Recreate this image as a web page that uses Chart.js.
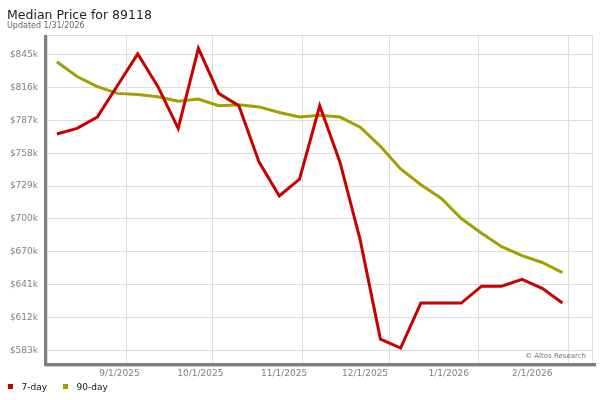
<!DOCTYPE html>
<html>
<head>
<meta charset="utf-8">
<title>Median Price for 89118</title>
<script src="https://cdn.jsdelivr.net/npm/chart.js@4"></script>
<style>
  html, body { margin: 0; padding: 0; background: #fff; }
  #wrap { position: relative; width: 600px; height: 400px; }
</style>
</head>
<body>
<div id="wrap"><canvas id="priceChart" width="600" height="400"></canvas></div>
<script>
// data (prices in $k), weekly points
const weekDates = ['2025-08-08','2025-08-15','2025-08-22','2025-08-29','2025-09-05','2025-09-12','2025-09-19','2025-09-26',
  '2025-10-03','2025-10-10','2025-10-17','2025-10-24','2025-10-31','2025-11-07','2025-11-14','2025-11-21','2025-11-28',
  '2025-12-05','2025-12-12','2025-12-19','2025-12-26','2026-01-02','2026-01-09','2026-01-16','2026-01-23','2026-01-30'];
const price7 = [775, 780, 790, 818, 846, 817, 780, 851, 811, 800, 750, 720, 735, 800, 750, 681, 593, 585,
  625, 625, 625, 640, 640, 646, 638, 625];
const price90 = [839, 826, 817, 811, 810, 808, 804, 806, 800, 801, 799, 794, 790, 791.5, 790, 781, 764, 744,
  730, 718, 700, 687, 675, 667, 661, 652];
const monthDates = ['2025-09-01','2025-10-01','2025-11-01','2025-12-01','2026-01-01','2026-02-01'];
const monthLabels = ['9/1/2025','10/1/2025','11/1/2025','12/1/2025','1/1/2026','2/1/2026'];
const yTicks = [583.1, 612.2, 641.3, 670.4, 699.6, 728.7, 757.8, 786.9, 816.0, 845.1];

const RED = '#c80000', OLIVE = '#a29f00';
const DAY = 86400000, day0 = Date.UTC(2025, 8, 1);
const toDay = s => (Date.parse(s + 'T00:00:00Z') - day0) / DAY;

const pts = arr => arr.map((v, i) => ({ x: toDay(weekDates[i]), y: v }));

// frame, title, legend, credit drawn on the canvas
const decor = {
  id: 'decor',
  beforeDatasetsDraw(chart) {
    const { ctx, chartArea: a } = chart;
    ctx.save();
    ctx.strokeStyle = '#dddddd'; ctx.lineWidth = 1;
    ctx.strokeRect(a.left + 0.5, a.top + 0.5, a.right - a.left - 1, a.bottom - a.top);
    ctx.restore();
  },
  afterDraw(chart) {
    const { ctx, chartArea: a } = chart;
    ctx.save();
    // axis bars
    ctx.fillStyle = '#c8c8c8';
    ctx.fillRect(a.left - 2, a.bottom + 1, a.right - a.left + 5, 3);
    ctx.fillStyle = '#7f7f7f';
    ctx.fillRect(a.left - 3, a.top, 3, a.bottom - a.top + 3);
    ctx.fillRect(a.left - 3, a.bottom, a.right - a.left + 6, 3);

    ctx.textBaseline = 'alphabetic';
    ctx.fillStyle = '#222';
    ctx.font = '12.5px "DejaVu Sans"';
    ctx.fillText('Median Price for 89118', 7, 19);
    ctx.fillStyle = '#666';
    ctx.font = '8px "DejaVu Sans"';
    ctx.fillText('Updated 1/31/2026', 7, 27.5);

    ctx.fillStyle = '#777';
    ctx.font = '7px "DejaVu Sans"';
    ctx.textAlign = 'right';
    ctx.fillText('\u00A9 Altos Research', 586, 357.5);

    // legend
    ctx.textAlign = 'left';
    ctx.font = '9px "DejaVu Sans"';
    chart.data.datasets.forEach((ds, i) => {
      const x = i === 0 ? 8 : 63;
      ctx.fillStyle = ds.borderColor;
      ctx.fillRect(x, 384, 5, 5);
      ctx.fillStyle = '#111';
      ctx.fillText(ds.label, x + 13.5, 390);
    });
    ctx.restore();
  }
};

new Chart(document.getElementById('priceChart'), {
  type: 'line',
  data: {
    datasets: [
      { label: '7-day', data: pts(price7), borderColor: RED, backgroundColor: RED, borderWidth: 3, pointRadius: 0, tension: 0 },
      { label: '90-day', data: pts(price90), borderColor: OLIVE, backgroundColor: OLIVE, borderWidth: 3, pointRadius: 0, tension: 0 }
    ]
  },
  options: {
    responsive: false,
    animation: false,
    layout: { padding: { left: 0, top: 35, right: 7, bottom: 0 } },
    plugins: { legend: { display: false }, tooltip: { enabled: false } },
    scales: {
      x: {
        type: 'linear', position: 'bottom', min: -27.41, max: 161.58,
        afterBuildTicks: ax => { ax.ticks = monthDates.map(d => ({ value: toDay(d) })); },
        afterFit: ax => { ax.height = 0; },
        ticks: { display: false },
        grid: { color: '#dddddd', drawTicks: false },
        border: { display: false }
      },
      xLabels: {
        type: 'linear', position: 'bottom', min: -26.87, max: 175.5,
        afterBuildTicks: ax => { ax.ticks = monthDates.map(d => ({ value: toDay(d) })); },
        afterFit: ax => { ax.height = 37; },
        ticks: {
          maxRotation: 0, autoSkip: false, padding: 5, color: '#808080',
          font: { family: 'DejaVu Sans', size: 9 },
          callback: (v, i) => monthLabels[i]
        },
        grid: { display: false, drawTicks: false },
        border: { display: false }
      },
      y: {
        min: 571.8, max: 862.8,
        afterBuildTicks: ax => { ax.ticks = yTicks.map(v => ({ value: v })); },
        afterFit: ax => { ax.width = 47; },
        ticks: {
          padding: 9, color: '#808080',
          font: { family: 'DejaVu Sans', size: 9 },
          callback: v => '$' + Math.round(v) + 'k'
        },
        grid: { color: '#dddddd', drawTicks: false },
        border: { display: false }
      }
    }
  },
  plugins: [decor]
});
</script>
</body>
</html>
